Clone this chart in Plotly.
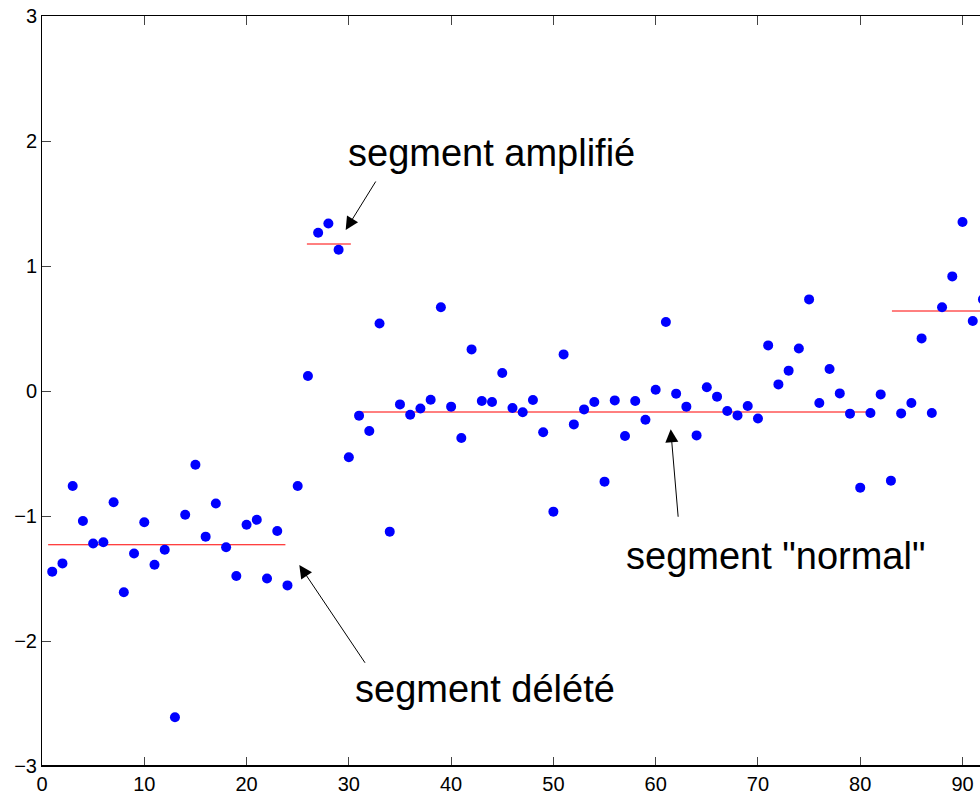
import plotly.graph_objects as go

# --- data ---
idx = list(range(1, 93))
values = [
    -1.445, -1.379, -0.76, -1.04, -1.22, -1.21, -0.89, -1.61, -1.30, -1.05,
    -1.39, -1.27, -2.61, -0.99, -0.59, -1.165, -0.90, -1.25, -1.48, -1.07,
    -1.03, -1.50, -1.12, -1.555, -0.76, 0.12, 1.266, 1.34, 1.13, -0.53,
    -0.197, -0.32, 0.54, -1.125, -0.107, -0.19, -0.14, -0.07, 0.67, -0.125,
    -0.376, 0.333, -0.08, -0.088, 0.144, -0.136, -0.17, -0.072, -0.33, -0.965,
    0.293, -0.267, -0.147, -0.088, -0.725, -0.075, -0.36, -0.08, -0.23, 0.01,
    0.552, -0.021, -0.125, -0.355, 0.03, -0.045, -0.16, -0.195, -0.12, -0.22,
    0.365, 0.053, 0.163, 0.34, 0.733, -0.096, 0.176, -0.019, -0.181, -0.773,
    -0.176, -0.027, -0.717, -0.179, -0.096, 0.421, -0.176, 0.67, 0.917, 1.352,
    0.56, 0.733,
]

seg_start = [0.6, 25.9, 31.2, 83.1]
seg_end = [23.8, 30.2, 80.9, 100.0]
seg_level = [-1.23, 1.176, -0.168, 0.64]

x_ticks = [0, 10, 20, 30, 40, 50, 60, 70, 80, 90]
y_ticks = [-3, -2, -1, 0, 1, 2, 3]
y_tick_text = ["\u22123", "\u22122", "\u22121", "0", "1", "2", "3"]

labels = ["segment amplifié", "segment délété", 'segment "normal"']
label_x = [43.9, 43.36, 71.71]
label_y = [1.904, -2.384, -1.32]
arrow_tail_x = [32.72, 31.68, 62.21]
arrow_tail_y = [1.688, -2.186, -1.018]
arrow_head_x = [29.69, 25.16, 61.47]
arrow_head_y = [1.288, -1.392, -0.306]

fig = go.Figure()

for xs, xe, lv in zip(seg_start, seg_end, seg_level):
    fig.add_trace(go.Scatter(x=[xs, xe], y=[lv, lv], mode="lines",
                             line=dict(color="#ff0000", width=1),
                             hoverinfo="skip", showlegend=False))

fig.add_trace(go.Scatter(x=idx, y=values, mode="markers",
                         marker=dict(color="#0000ff", size=10, line=dict(width=0)),
                         showlegend=False))

for t, tx, ty in zip(labels, label_x, label_y):
    fig.add_annotation(x=tx, y=ty, text=t, showarrow=False,
                       xanchor="center", yanchor="middle",
                       font=dict(family="Liberation Sans", size=38, color="black"))

for hx, hy, tx, ty in zip(arrow_head_x, arrow_head_y, arrow_tail_x, arrow_tail_y):
    fig.add_annotation(x=hx, y=hy, ax=tx, ay=ty, xref="x", yref="y",
                       axref="x", ayref="y", text="", showarrow=True,
                       arrowhead=2, arrowsize=2.6, arrowwidth=1, arrowcolor="black")

# slightly heavier bottom axis line
fig.add_shape(type="line", xref="x domain", yref="y", x0=0, x1=1, y0=-3, y1=-3,
              line=dict(color="black", width=2), layer="above")

fig.update_layout(
    width=980, height=796,
    margin=dict(l=42, r=0, t=16, b=30),
    paper_bgcolor="white", plot_bgcolor="white",
    font=dict(family="Liberation Sans", size=20, color="black"),
    showlegend=False,
)
fig.update_xaxes(range=[0, 91.71], tickvals=x_ticks, ticks="inside", ticklen=9,
                 tickcolor="#444", showgrid=False, zeroline=False,
                 showline=True, linecolor="black", linewidth=1, mirror="ticks")
fig.update_yaxes(range=[-3, 3], tickvals=y_ticks, ticktext=y_tick_text,
                 ticks="inside", ticklen=9, tickcolor="#444", showgrid=False,
                 zeroline=False, showline=True, linecolor="black", linewidth=1,
                 mirror=False)

fig.write_html("out.html")
